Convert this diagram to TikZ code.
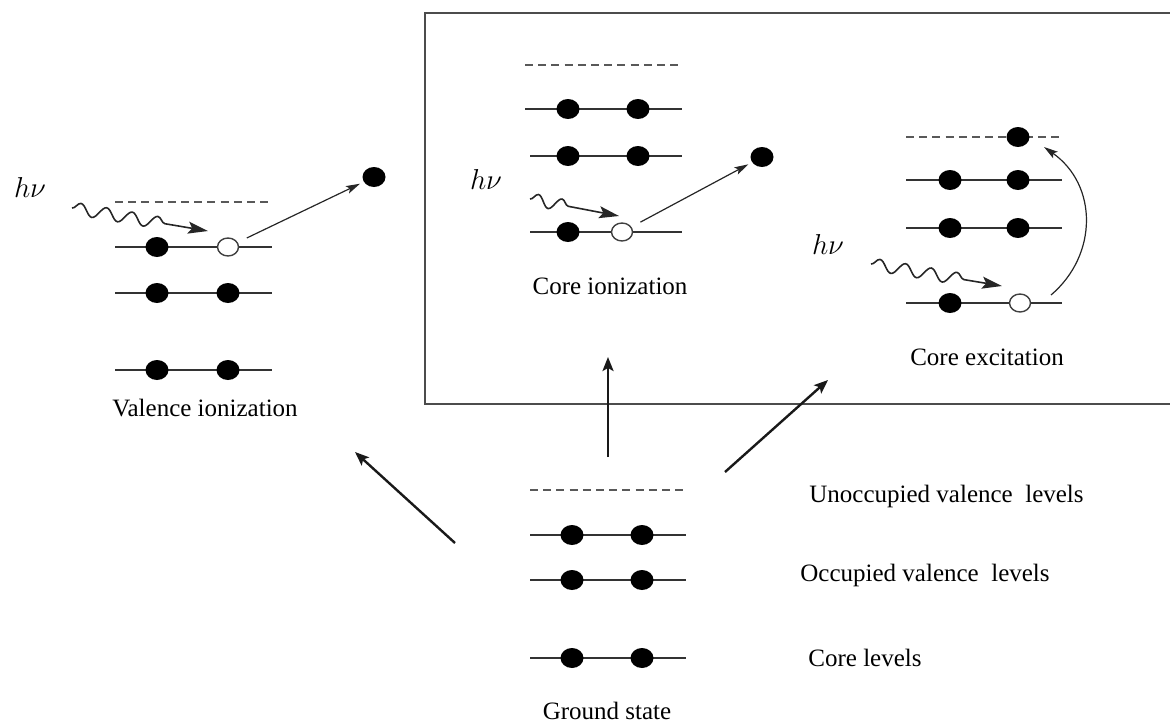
\documentclass[tikz,border=0pt]{standalone}
\usepackage{fontspec}
\setmainfont{Liberation Serif}
\usetikzlibrary{shapes.geometric,decorations.pathmorphing,arrows.meta}
\begin{document}
\begin{tikzpicture}[x=0.5pt,y=-0.5pt,
 lvl/.style={draw=black!80, line width=1pt},
 unocc/.style={draw=black!65, line width=1pt, dash pattern=on 4pt off 2.6pt},
 elec/.style={ellipse, fill=black, minimum width=11.5pt, minimum height=10pt, inner sep=0pt},
 hole/.style={ellipse, draw=black!75, line width=0.7pt, fill=white, minimum width=10.5pt, minimum height=9pt, inner sep=0pt},
 lbl/.style={font=\fontsize{12.5}{15}\selectfont, inner sep=0pt},
 hv/.style={font=\fontsize{14}{16}\selectfont, inner sep=0pt},
 photon/.style={draw=black!85, line width=0.8pt, decorate,
   decoration={snake, amplitude=3pt, segment length=13pt, post length=18pt},
   -{Stealth[length=10pt,width=6pt,inset=2pt]}},
 eject/.style={draw=black!85, line width=0.6pt, -{Stealth[length=7pt,width=4pt,inset=1.5pt]}},
 big/.style={draw=black!90, line width=1.2pt, -{Stealth[length=7pt,width=5.5pt,inset=1.5pt]}},
 frame/.style={draw=black!70, line width=1pt}
]
\useasboundingbox (0,0) rectangle (1170,722);

% enclosing box (right edge outside the picture)
\draw[frame] (1172,13) -- (425,13) -- (425,404) -- (1172,404);

% ---------- Valence ionization ----------
\draw[unocc] (115,202) -- (272,202);
\foreach \y in {247,293,370} \draw[lvl] (115,\y) -- (272,\y);
\node[elec] (v1a) at (157,247) {};
\node[hole] (v1b) at (228,247) {};
\node[elec] (v2a) at (157,293) {};
\node[elec] (v2b) at (228,293) {};
\node[elec] (v3a) at (157,370) {};
\node[elec] (v3b) at (228,370) {};
\node[elec] (ve) at (374,177) {};
\draw[eject, shorten <=5pt, shorten >=2pt] (v1b) -- (ve);
\coordinate (vps) at (72,208);
\coordinate (vpe) at (208,231);
\draw[photon] (vps) -- (vpe);
\node[hv] (vhv) at (30,187) {$h\nu$};
\node[lbl] (vlab) at (205,408) {Valence ionization};

% ---------- Core ionization ----------
\draw[unocc] (525,65) -- (682,65);
\draw[lvl] (525,109) -- (682,109);
\draw[lvl] (530,156) -- (682,156);
\draw[lvl] (530,232) -- (682,232);
\node[elec] (c1a) at (568,109) {};
\node[elec] (c1b) at (638,109) {};
\node[elec] (c2a) at (568,156) {};
\node[elec] (c2b) at (638,156) {};
\node[elec] (c3a) at (568,232) {};
\node[hole] (c3b) at (622,232) {};
\node[elec] (ce) at (762,157) {};
\draw[eject, shorten <=5pt, shorten >=2pt] (c3b) -- (ce);
\coordinate (cps) at (530,199);
\coordinate (cpe) at (619,216);
\draw[photon, decoration={segment length=12pt, post length=20pt}] (cps) -- (cpe);
\node[hv] (chv) at (486,179) {$h\nu$};
\node[lbl] (clab) at (610,286) {Core ionization};

% ---------- Core excitation ----------
\draw[unocc] (906,137) -- (1062,137);
\foreach \y in {180,228,303} \draw[lvl] (906,\y) -- (1062,\y);
\node[elec] (x0) at (1018,137) {};
\node[elec] (x1a) at (950,180) {};
\node[elec] (x1b) at (1018,180) {};
\node[elec] (x2a) at (950,228) {};
\node[elec] (x2b) at (1018,228) {};
\node[elec] (x3a) at (950,303) {};
\node[hole] (x3b) at (1020,303) {};
\coordinate (xcs) at (1051,295);
\coordinate (xce) at (1044,147);
\draw[eject] (xcs) .. controls (1098,255) and (1098,185) .. (xce);
\coordinate (xps) at (871,264);
\coordinate (xpe) at (1002,286);
\draw[photon] (xps) -- (xpe);
\node[hv] (xhv) at (828,244) {$h\nu$};
\node[lbl] (xlab) at (987,357) {Core excitation};

% ---------- Ground state ----------
\draw[unocc] (530,490) -- (686,490);
\foreach \y in {535,580,658} \draw[lvl] (530,\y) -- (686,\y);
\node[elec] (g1a) at (572,535) {};
\node[elec] (g1b) at (642,535) {};
\node[elec] (g2a) at (572,580) {};
\node[elec] (g2b) at (642,580) {};
\node[elec] (g3a) at (572,658) {};
\node[elec] (g3b) at (642,658) {};
\node[lbl] (glab) at (607,711) {Ground state};
\node[lbl, anchor=west] (lu) at (809,496) {Unoccupied valence\ \ levels};
\node[lbl, anchor=west] (lo) at (800,575) {Occupied valence\ \ levels};
\node[lbl, anchor=west] (lc) at (808,658) {Core levels};

% ---------- transition arrows ----------
\coordinate (a1s) at (455,543);
\coordinate (a1e) at (355,452);
\coordinate (a2s) at (608,457);
\coordinate (a2e) at (608,357);
\coordinate (a3s) at (725,472);
\coordinate (a3e) at (828,380);
\draw[big] (a1s) -- (a1e);
\draw[big] (a2s) -- (a2e);
\draw[big] (a3s) -- (a3e);
\end{tikzpicture}
\end{document}
